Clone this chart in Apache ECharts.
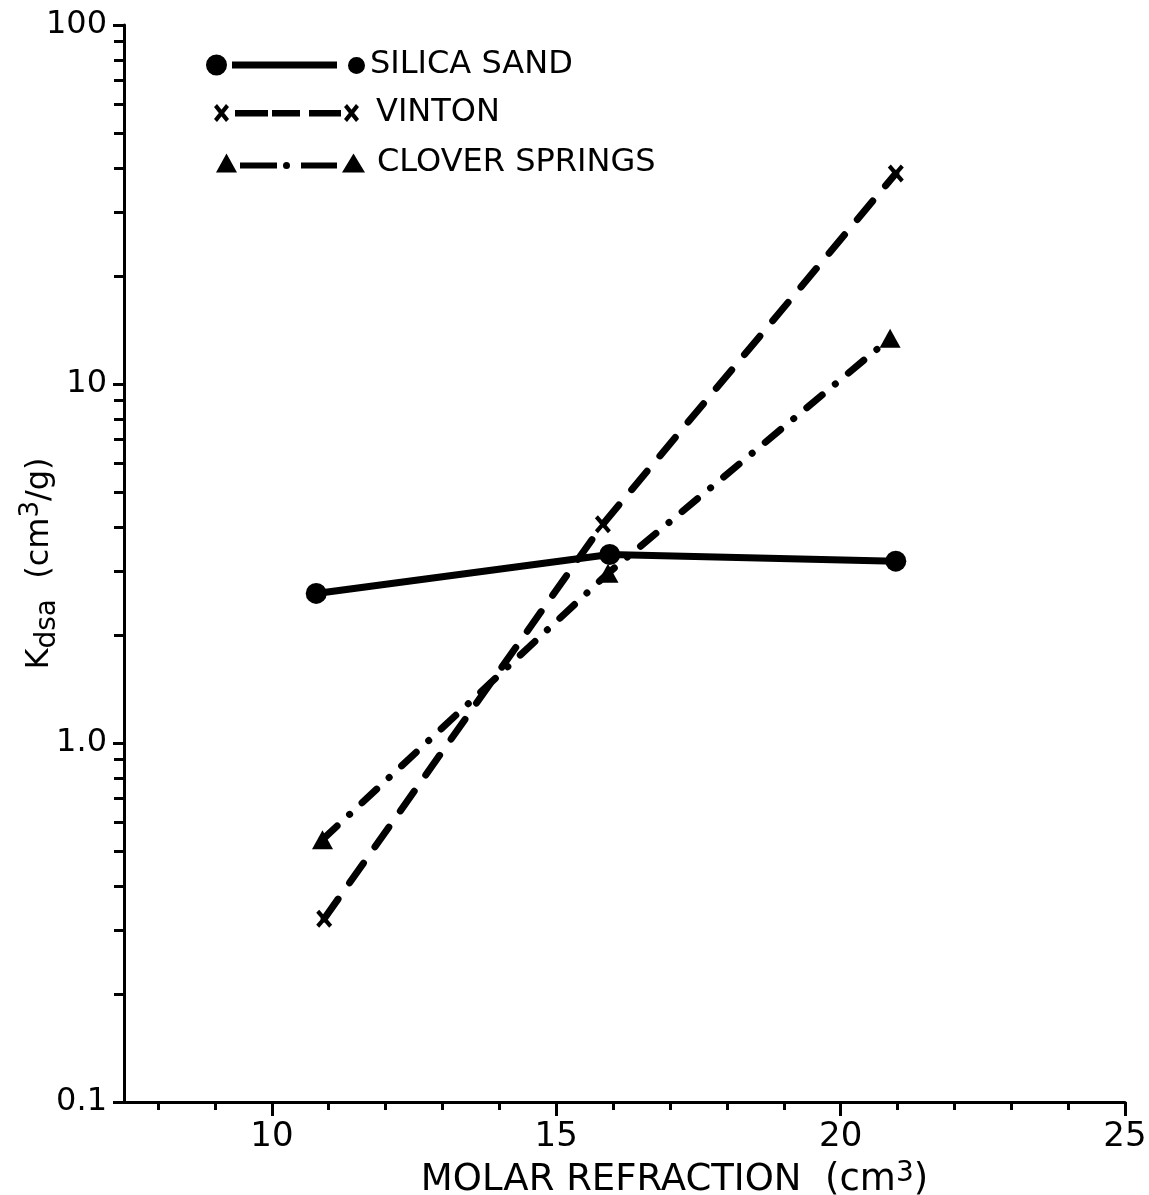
<!DOCTYPE html>
<html>
<head>
<meta charset="utf-8">
<script src="https://cdn.jsdelivr.net/npm/echarts@6/dist/echarts.min.js"></script>
<style>
html,body{margin:0;padding:0;background:#fff;}
#chart{width:1149px;height:1195px;}
</style>
</head>
<body>
<div id="chart"></div>
<script>
// ---- data ----
const seriesNames = ['SILICA SAND', 'VINTON', 'CLOVER SPRINGS'];
const silicaSand = [[10.78, 2.61], [15.94, 3.35], [20.97, 3.21]];
const vinton = [[10.92, 0.324], [15.82, 4.07], [20.97, 38.6]];
const cloverSprings = [[10.89, 0.538], [15.91, 2.97], [20.87, 13.4]];

const xTickValues = [10, 15, 20, 25];
const xMinorTickValues = [8, 9, 11, 12, 13, 14, 16, 17, 18, 19, 21, 22, 23, 24];
const yTickValues = [0.1, 1, 10, 100];
const yTickLabels = ['0.1', '1.0', '10', '100'];
const yMinorTickValues = [0.2,0.3,0.4,0.5,0.6,0.7,0.8,0.9,2,3,4,5,6,7,8,9,20,30,40,50,60,70,80,90];

const FONT = 'DejaVu Sans';

// symbol paths
const xMark = 'path://M0,3L3,0L16,15L13,18ZM16,3L3,18L0,15L13,0Z';
const iconSilica = 'path://M0,10.5A10.5,10.5 0 1 1 21,10.5A10.5,10.5 0 1 1 0,10.5Z' +
  'M26,7L131,7L131,14L26,14Z' +
  'M142,11A8.5,8.5 0 1 1 159,11A8.5,8.5 0 1 1 142,11Z';
const iconVinton = 'path://M0,3L3,0L15,15L12,18ZM15,3L3,18L0,15L12,0Z' +
  'M21,6L54,6L54,12.5L21,12.5Z' +
  'M58,6L86,6L86,12.5L58,12.5Z' +
  'M95,6L127,6L127,12.5L95,12.5Z' +
  'M130,3L133,0L145,15L142,18ZM145,3L133,18L130,15L142,0Z';
const iconClover = 'path://M10.5,0L21,19L0,19Z' +
  'M24,9L61,9L61,15L24,15Z' +
  'M67,12A3.5,3.5 0 1 1 74,12A3.5,3.5 0 1 1 67,12Z' +
  'M85,9L121,9L121,15L85,15Z' +
  'M137.5,0L149,19L126,19Z';

function yFmt(v) {
  for (let i = 0; i < yTickValues.length; i++) {
    if (Math.abs(Math.log10(v) - Math.log10(yTickValues[i])) < 1e-6) return yTickLabels[i];
  }
  return '';
}

const chart = echarts.init(document.getElementById('chart'), null, {renderer: 'canvas'});

const legendText = {fontFamily: FONT, fontSize: 32, color: '#000', lineHeight: 30};

const option = {
  backgroundColor: '#fff',
  animation: false,
  grid: {left: 124, right: 24, top: 25, bottom: 93, containLabel: false, outerBoundsMode: 'none'},
  legend: [
    {left: 201, top: 44, itemWidth: 159, itemHeight: 21, data: [{name: seriesNames[0], icon: iconSilica}],
     textStyle: legendText, selectedMode: false},
    {left: 209, top: 92, itemWidth: 145, itemHeight: 18, data: [{name: seriesNames[1], icon: iconVinton}],
     textStyle: Object.assign({}, legendText, {padding: [0, 0, 0, 12]}), selectedMode: false},
    {left: 211, top: 142, itemWidth: 149, itemHeight: 19, data: [{name: seriesNames[2], icon: iconClover}],
     textStyle: Object.assign({}, legendText, {padding: [0, 0, 0, 7]}), selectedMode: false}
  ],
  xAxis: [
    {
      type: 'value', min: 7.4, max: 25, position: 'bottom',
      name: '{t|MOLAR REFRACTION  (cm}{sup|3}{t|)}',
      nameLocation: 'middle', nameGap: 58, nameMoveOverlap: false,
      nameTextStyle: {
        padding: [0, 0, 0, 100],
        rich: {
          t: {fontFamily: FONT, fontSize: 37, color: '#000', lineHeight: 40},
          sup: {fontFamily: FONT, fontSize: 28, color: '#000', lineHeight: 40, verticalAlign: 'top', padding: [0, 0, 14, 0]}
        }
      },
      axisLine: {show: true, lineStyle: {color: '#000', width: 3}},
      axisTick: {show: true, inside: false, length: 14, customValues: xTickValues, lineStyle: {color: '#000', width: 3}},
      axisLabel: {show: true, customValues: xTickValues, margin: 18, fontFamily: FONT, fontSize: 34, color: '#000'},
      splitLine: {show: false}
    },
    {
      type: 'value', min: 7.4, max: 25, position: 'bottom', gridIndex: 0,
      axisLine: {show: false},
      axisTick: {show: true, inside: false, length: 8, customValues: xMinorTickValues, lineStyle: {color: '#000', width: 3}},
      axisLabel: {show: false},
      splitLine: {show: false}
    }
  ],
  yAxis: [
    {
      type: 'log', logBase: 10, min: 0.1, max: 100, position: 'left',
      name: '{k|K}{s|dsa}{t|  (cm}{sup|3}{t|/g)}',
      nameLocation: 'middle', nameGap: 62, nameRotate: 90, nameMoveOverlap: false,
      nameTextStyle: {
        rich: {
          k: {fontFamily: FONT, fontSize: 32, color: '#000', lineHeight: 44},
          s: {fontFamily: FONT, fontSize: 28, color: '#000', lineHeight: 44, verticalAlign: 'bottom', padding: [14, 0, 0, 0]},
          t: {fontFamily: FONT, fontSize: 32, color: '#000', lineHeight: 44},
          sup: {fontFamily: FONT, fontSize: 26, color: '#000', lineHeight: 44, verticalAlign: 'top', padding: [0, 0, 12, 0]}
        }
      },
      axisLine: {show: true, lineStyle: {color: '#000', width: 3}},
      axisTick: {show: true, inside: false, length: 11, lineStyle: {color: '#000', width: 3}},
      axisLabel: {show: true, margin: 17, fontFamily: FONT, fontSize: 32, color: '#000', formatter: yFmt},
      splitLine: {show: false},
      minorTick: {show: false}
    },
    {
      type: 'log', logBase: 10, min: 0.1, max: 100, position: 'left', gridIndex: 0,
      axisLine: {show: false},
      axisTick: {show: true, inside: false, length: 10, customValues: yMinorTickValues, lineStyle: {color: '#000', width: 3}},
      axisLabel: {show: false},
      splitLine: {show: false}
    }
  ],
  series: [
    {
      name: seriesNames[0], type: 'line', data: silicaSand, xAxisIndex: 0, yAxisIndex: 0,
      symbol: 'circle', symbolSize: 21, color: '#000',
      itemStyle: {color: '#000'},
      lineStyle: {color: '#000', width: 7, type: 'solid', cap: 'round'}
    },
    {
      name: seriesNames[1], type: 'line', data: vinton, xAxisIndex: 0, yAxisIndex: 0,
      symbol: xMark, symbolSize: [16, 18], color: '#000',
      itemStyle: {color: '#000'},
      lineStyle: {color: '#000', width: 7, type: [24, 20], cap: 'round'}
    },
    {
      name: seriesNames[2], type: 'line', data: cloverSprings, xAxisIndex: 0, yAxisIndex: 0,
      symbol: 'triangle', symbolSize: [21, 19], color: '#000',
      itemStyle: {color: '#000'},
      lineStyle: {color: '#000', width: 7, type: [20, 17, 0.1, 17], cap: 'round'}
    }
  ]
};
chart.setOption(option);
</script>
</body>
</html>
